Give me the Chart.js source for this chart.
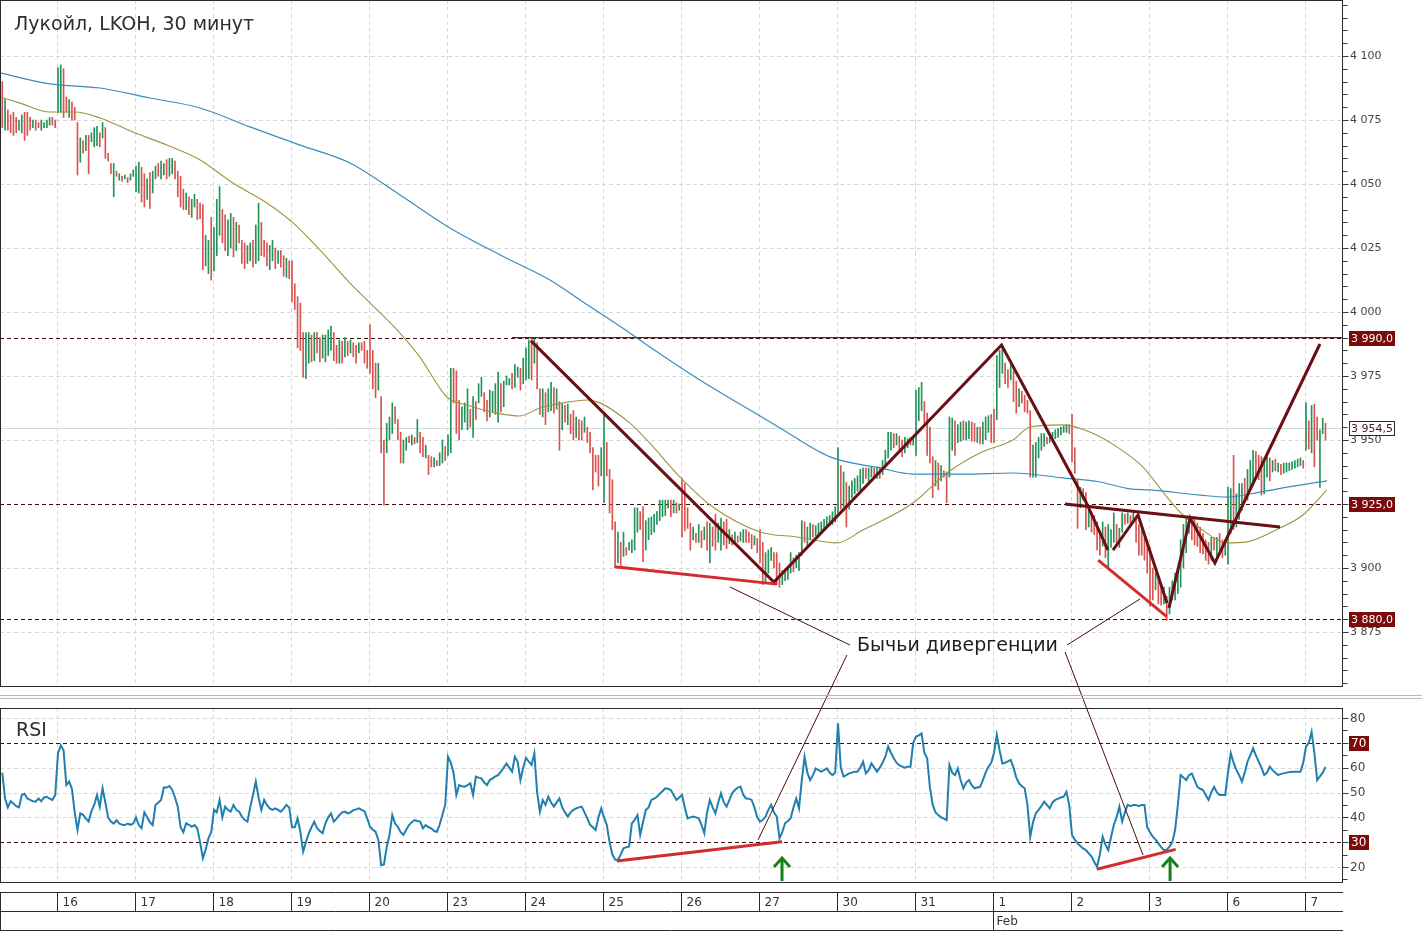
<!DOCTYPE html>
<html>
<head>
<meta charset="utf-8">
<title>Лукойл, LKOH, 30 минут</title>
<script src="https://cdn.jsdelivr.net/npm/chart.js@4.4.1/dist/chart.umd.min.js"></script>
<style>
  html, body { margin: 0; padding: 0; background: #fff; }
  #chart { display: block; }
</style>
</head>
<body>
<canvas id="chart" width="1422" height="933"></canvas>
<script>
// ---- data ----
const title = 'Лукойл, LKOH, 30 минут';
const dayLabels = ['16', '17', '18', '19', '20', '23', '24', '25', '26', '27', '30', '31', '1', '2', '3', '6', '7'];
const monthLabels = [{ day: 12, text: 'Feb' }];
const barsPerDay = 28;
const firstBar = -20; // tail of the previous session before "16"

const highs = [
  4090, 4083, 4079, 4077, 4078, 4076, 4075, 4077, 4078, 4078, 4076, 4075, 4075, 4074, 4075, 4074, 4075, 4076, 4076, 4075,
  // 16
  4095.5, 4096.5, 4095, 4084, 4083, 4082, 4080, 4074, 4068, 4067, 4069, 4069, 4070, 4072, 4072.5, 4070, 4074, 4072, 4062, 4058, 4058, 4055, 4054, 4053, 4053.5, 4052.5, 4054, 4055.5,
  // 17
  4057, 4058.5, 4056.5, 4054, 4052, 4054.5, 4055, 4057, 4058, 4059, 4058, 4059.5, 4060, 4060, 4059, 4055, 4053, 4048, 4046.5, 4045, 4044, 4046, 4044, 4042.5, 4042, 4030, 4028, 4037,
  // 18
  4033, 4044, 4049, 4040, 4038, 4036, 4038.5, 4037, 4035, 4034, 4028, 4027, 4026, 4027, 4028, 4034, 4042.5, 4035, 4028, 4027, 4026, 4028, 4025, 4024, 4024, 4022, 4021, 4020,
  // 19
  4020, 4011, 4006, 4003.5, 3992, 3992, 3992, 3991, 3992, 3992, 3990, 3991, 3991, 3993, 3994.5, 3992, 3987, 3989, 3988.5, 3990, 3988.5, 3989, 3988, 3987, 3988, 3988, 3988.5, 3985,
  // 20
  3995, 3985, 3980, 3980, 3967, 3950, 3956.5, 3959, 3964.5, 3963, 3958, 3953, 3950, 3951, 3951.5, 3952, 3951, 3958, 3953, 3951, 3948, 3944, 3943.5, 3943, 3942, 3945, 3950, 3947.5,
  // 23
  3952, 3978, 3978, 3977, 3965.5, 3963, 3964.5, 3970, 3962, 3967, 3965, 3972, 3974.5, 3968.5, 3965.5, 3969.5, 3969, 3972, 3976.5, 3972, 3973, 3975, 3974, 3976, 3979.5, 3978.5, 3978, 3982,
  // 24
  3986, 3989, 3990, 3989.5, 3988, 3970, 3970, 3968.5, 3970, 3972.5, 3970.5, 3970, 3965, 3964, 3963.5, 3964, 3960, 3961.5, 3959, 3958, 3957.5, 3959, 3955, 3953, 3947, 3944, 3944, 3947,
  // 25
  3960, 3949, 3938.5, 3934.5, 3918, 3914, 3910, 3914, 3908, 3910, 3911, 3923.5, 3923.5, 3922, 3924, 3918.5, 3919.5, 3920, 3921, 3922, 3926.5, 3926.5, 3926.5, 3926.5, 3926.5, 3926.5, 3925.5, 3925,
  // 26
  3935, 3933, 3923.5, 3917.5, 3916, 3913.5, 3917, 3914.5, 3916, 3918, 3917.5, 3916, 3921, 3917.5, 3919.5, 3918, 3919, 3915, 3913, 3914, 3912.5, 3914, 3915, 3915, 3914, 3913, 3912.5, 3911.5,
  // 27
  3915, 3910, 3906, 3907, 3908, 3906, 3906, 3902, 3899, 3899.5, 3900.5, 3906, 3904, 3905, 3906, 3918.5, 3918, 3916, 3917.5, 3917, 3916.5, 3917.5, 3918, 3919, 3920, 3920.5, 3922, 3924,
  // 30
  3947, 3940, 3937.5, 3933.5, 3932, 3934, 3935, 3936, 3938.5, 3939, 3939, 3939, 3939.5, 3939, 3939.5, 3939.5, 3942, 3946, 3953, 3953, 3952.5, 3952.5, 3951.5, 3950, 3951, 3950.5, 3951, 3951,
  // 31
  3969.5, 3970.5, 3972.5, 3965, 3960.5, 3955, 3943.5, 3942, 3941, 3940, 3938, 3937.5, 3959, 3958.5, 3957.5, 3956, 3957, 3957.5, 3957, 3957.5, 3957, 3956.5, 3955, 3955, 3957, 3959, 3959.5, 3960,
  // 1 Feb
  3962, 3983, 3985, 3987, 3980, 3977.5, 3979.5, 3977, 3973, 3970, 3969, 3967.5, 3965.5, 3961.5, 3948, 3949, 3951, 3952.5, 3952.5, 3951, 3951, 3953, 3954, 3954.5, 3955, 3955.5, 3956, 3956,
  // 2
  3960, 3947, 3934.5, 3931.5, 3931, 3929.5, 3922.5, 3921, 3920.5, 3918, 3914, 3918, 3916, 3917, 3915, 3921.5, 3917, 3915.5, 3921.5, 3921, 3921.5, 3920.5, 3922, 3920, 3917, 3915, 3912, 3910,
  // 3
  3908, 3900, 3898, 3895.5, 3893, 3892.5, 3889, 3892.5, 3895, 3898, 3900, 3911, 3917, 3919.5, 3920, 3920, 3919, 3917.5, 3916, 3913.5, 3911, 3910, 3912, 3912, 3912, 3913.5, 3911, 3911,
  // 6
  3931.5, 3931, 3944, 3929, 3933, 3933, 3935, 3938.5, 3942, 3946, 3945.5, 3944, 3943.5, 3943, 3943.5, 3943, 3942, 3942.5, 3941, 3940.5, 3941, 3941, 3941, 3941.5, 3942, 3942.5, 3943, 3942,
  // 7
  3964.5, 3957.5, 3963.5, 3964, 3959, 3954, 3958.5, 3956.5
];

const lows = [
  4072, 4071, 4071, 4070, 4069, 4070, 4071, 4070, 4067, 4069, 4071, 4072, 4071, 4072, 4071, 4072, 4072, 4073, 4073, 4072,
  // 16
  4078, 4078, 4076, 4078, 4076, 4075, 4075, 4053.5, 4058.5, 4062, 4063, 4054, 4066.5, 4064.5, 4065, 4064.5, 4068, 4060, 4059, 4054, 4045, 4053, 4051.5, 4051, 4052, 4050.5, 4051.5, 4053,
  // 17
  4047, 4046.5, 4043, 4041, 4044, 4040.5, 4046.5, 4052, 4053, 4052, 4053.5, 4052, 4053, 4054, 4052, 4045, 4041, 4040, 4040, 4038, 4037, 4041, 4036, 4036.5, 4016.5, 4018, 4015, 4012.5,
  // 18
  4016, 4022, 4030, 4027, 4024, 4022, 4025, 4021.5, 4024, 4027, 4019, 4017, 4019, 4020, 4017.5, 4019, 4020, 4022, 4021.5, 4018, 4016.5, 4020, 4017, 4019, 4017.5, 4014, 4013.5, 4013,
  // 19
  4004, 4001, 3986, 3985, 3974.5, 3974, 3980, 3980.5, 3981, 3984, 3980.5, 3982, 3980.5, 3983, 3985, 3981, 3980, 3980, 3980, 3982.5, 3983, 3984, 3982.5, 3980, 3984, 3985, 3980, 3978,
  // 20
  3976, 3970, 3966.5, 3969.5, 3945, 3924.5, 3945, 3950, 3952.5, 3956.5, 3950, 3941, 3941, 3946, 3949, 3948, 3948.5, 3949, 3945, 3943.5, 3943, 3936.5, 3939.5, 3939.5, 3940, 3940, 3941, 3942,
  // 23
  3944, 3945, 3964.5, 3952.5, 3950, 3954, 3957, 3954, 3955, 3951, 3958, 3964.5, 3967, 3961, 3957.5, 3959, 3961, 3960, 3957, 3961, 3963, 3971.5, 3971.5, 3970, 3970.5, 3974.5, 3969.5, 3972,
  // 24
  3973.5, 3974, 3973.5, 3980, 3970, 3960, 3959, 3956, 3961, 3961.5, 3960.5, 3962, 3946, 3954, 3957, 3956, 3952.5, 3950, 3951, 3950, 3950, 3953, 3949, 3945, 3930.5, 3937.5, 3932, 3936,
  // 25
  3925.5, 3936, 3921.5, 3915, 3901, 3902, 3901, 3904.5, 3905, 3907, 3906, 3907, 3914, 3915, 3902.5, 3907, 3911, 3913, 3914, 3917, 3918.5, 3920, 3920.5, 3923.5, 3920, 3921.5, 3921.5, 3922.5,
  // 26
  3912, 3914.5, 3915.5, 3907, 3911, 3910, 3910, 3908, 3911, 3907, 3902, 3908.5, 3907, 3910, 3907, 3909, 3907.5, 3909.5, 3909, 3910, 3910, 3910.5, 3910, 3910, 3910, 3907.5, 3909, 3906,
  // 27
  3902, 3893.5, 3894, 3898, 3903, 3900, 3893.5, 3892.5, 3893.5, 3895, 3895.5, 3898, 3898.5, 3900, 3899, 3905, 3910, 3908.5, 3911, 3912, 3912.5, 3913, 3914, 3915, 3916, 3916.5, 3917, 3918,
  // 30
  3921.5, 3923, 3924, 3916, 3923, 3927.5, 3929, 3930, 3930.5, 3933, 3935, 3934, 3935.5, 3935.5, 3935, 3935, 3936.5, 3939.5, 3943, 3946, 3947, 3948, 3945, 3943.5, 3945, 3947, 3948, 3948,
  // 31
  3944, 3957.5, 3961.5, 3956.5, 3944, 3941, 3927.5, 3932, 3930.5, 3934, 3935.5, 3925.5, 3935.5, 3946, 3944, 3949, 3949.5, 3950, 3950, 3950.5, 3949.5, 3949.5, 3949, 3948.5, 3948.5, 3950, 3953, 3949,
  // 1 Feb
  3949, 3958, 3970.5, 3976, 3972, 3970.5, 3973.5, 3965, 3960.5, 3963, 3964.5, 3961, 3960.5, 3935.5, 3935.5, 3935.5, 3943, 3946, 3947.5, 3948.5, 3949, 3950, 3950.5, 3951, 3952, 3953, 3953, 3952.5,
  // 2
  3941.5, 3937, 3915.5, 3923.5, 3926.5, 3915, 3916, 3914, 3913, 3907, 3905, 3908.5, 3904, 3900.5, 3908, 3910, 3910, 3908, 3914, 3917, 3917.5, 3916.5, 3918, 3910, 3905, 3905, 3903, 3898,
  // 3
  3885, 3887.5, 3891.5, 3886, 3885.5, 3886, 3879.5, 3882, 3887.5, 3887.5, 3890, 3892.5, 3900, 3906, 3913.5, 3911, 3909, 3908.5, 3906, 3905.5, 3903, 3901.5, 3903, 3907, 3904.5, 3907, 3904, 3905,
  // 6
  3901.5, 3913.5, 3915, 3916, 3919, 3922.5, 3926.5, 3926.5, 3931.5, 3933, 3936.5, 3934.5, 3928.5, 3929, 3935.5, 3934, 3937.5, 3938, 3937.5, 3936.5, 3937, 3937.5, 3938, 3938.5, 3939, 3939.5, 3940, 3939,
  // 7
  3946, 3946.5, 3945, 3939.5, 3950, 3931.5, 3952.5, 3950
];

// u = bar closed up (green), d = closed down (red)
const barDirs = [
  'dudd dduu dddu dduu uudd',
  'uudd uddd udud uuud uddd udud uduu',
  'uudd uduu duud uudd ddud uudd duud',
  'uuud duud uddd uudu uddd uudu ddud',
  'dddd duud uddu uuud dudu dudd uddd',
  'dddu dduu uddd uudu dudd uddu duud',
  'uudd duuu dudu uddu uuud uuud uudu',
  'uudu ddud uudu dudu ddud dudd dddu',
  'uddd dudu duuu uddu uuuu uuuu dudu',
  'dddd udud udud duud dudu duud ddud',
  'dduu uddd uuuu duuu duud uuuu uuuu',
  'udud uuuu uudu udud uuuu dudd uudu',
  'uuud dddu dudd uudu uduu ddud uuud',
  'duuu ddud dudd dduu uuud uuuu uuud',
  'dddu ddud dddu duuu duud udud dddd',
  'ddud dudu uuuu uuud dddd ddud uddu',
  'uudu uudu uudd duud udud uuuu uuud',
  'udud duud'
].join('').replace(/ /g, '');

const rsiValues = [
  58, 47.6, 44, 46.5, 45.6, 44.5, 44, 49, 49.5, 47.6, 47, 46.5, 46.3, 47.6, 46.5, 48, 48.3, 47.5, 47, 49,
  65.8, 69, 67, 53, 54.4, 51.5, 42, 35, 41.6, 41, 39.5, 38.3, 42.5, 45, 49, 44.3, 51.7, 46, 40, 38.3, 37.5, 38.9, 37.5, 37, 36.9, 37.5, 37, 37.5,
  40, 36.9, 35.6, 42, 40, 38, 36.9, 45, 46, 47, 52, 52, 52.6, 51, 48, 44.3, 36, 34, 37.6, 37, 36.2, 36.9, 35.6, 30, 23.5, 27, 31.5, 34,
  43, 42, 47, 40, 44.3, 43, 42.3, 45, 43, 42.3, 40.3, 39, 38.3, 44, 49, 54.4, 48, 43, 47, 45, 43.6, 43, 43.6, 43, 42.3, 43.5, 45, 44,
  36, 36, 39.6, 34.2, 26.2, 30, 33.5, 36, 38.3, 35.6, 34.5, 33.6, 37.6, 40, 41.6, 38.3, 39.5, 40.9, 42, 42.3, 41.6, 42, 42.9, 43.2, 43.6, 43, 42.5, 39.6,
  36.2, 35, 34.2, 30.9, 20.8, 21, 28, 33, 40.9, 37.5, 36.2, 34, 32.9, 35, 36.9, 38, 38.9, 38.5, 38.3, 35.6, 36.9, 36, 35.6, 34.5, 34.2, 37, 41, 45,
  64.4, 62, 58, 49, 53, 52.5, 52.3, 53, 53.7, 49, 56.4, 56, 55.7, 54, 53, 55, 55.7, 56.5, 57, 58.4, 60, 61.7, 60, 58.4, 64.4, 62.4, 55, 60,
  64, 62.4, 61.1, 65.8, 50, 42.3, 47, 45, 48.3, 46, 44.3, 46, 47.6, 44, 42, 40.3, 42, 43, 43.6, 44, 44.3, 42, 39.6, 37, 36, 34.9, 40, 43.6,
  40, 36.9, 30, 25, 23, 22.8, 25, 27.5, 28, 28.2, 37.6, 39, 40.9, 32.9, 38, 42.9, 44, 47, 47.5, 48.3, 49.5, 50.5, 51.7, 51.5, 51, 49, 47, 48,
  49, 44, 39.6, 40, 40.3, 40, 39.6, 37, 33.6, 42, 47, 44, 41.6, 46, 49.7, 46, 44.3, 47, 49.7, 51, 52, 52.3, 49, 47.6, 47.5, 47, 44, 40,
  38.3, 39, 40.3, 43, 45, 42, 40.3, 31.5, 34, 37.6, 38.5, 39.6, 44, 47.6, 43.6, 55, 64.4, 58, 55, 57, 59.7, 59, 58.4, 59, 59.7, 58, 57, 58,
  77.9, 60, 56.4, 57, 57.7, 58, 58.4, 58.4, 60, 62.4, 57.7, 59, 61.7, 60, 58.4, 60, 62, 64.4, 68.5, 66, 63.8, 62, 61, 60.4, 60, 60.4, 60.4, 70,
  72.5, 73, 73.8, 66, 63.8, 52, 45, 42, 40.9, 40, 39.5, 38.9, 61.1, 58, 57, 59.7, 55, 51.7, 54, 55, 53, 51.7, 52, 52.3, 55, 58, 60.4, 62,
  66, 73.2, 67, 61.7, 62, 62.5, 63.1, 60, 56, 53.7, 52.5, 51.7, 45, 32.2, 38, 41.6, 43, 44.5, 46.3, 45, 43.6, 46, 47, 47.5, 48, 48.3, 50.3, 45,
  32.9, 31, 29.5, 28.5, 27.5, 26.8, 25.5, 24.2, 22, 20.1, 25, 32.2, 29, 26.8, 32, 36.9, 40, 44.3, 38.3, 42, 45, 44.5, 45, 45, 44.5, 45, 45, 36,
  34, 32.2, 31, 29.5, 28, 26.8, 27, 28.2, 30, 34.9, 45, 57, 56, 55, 57, 57.7, 55, 52.3, 51.5, 51, 49, 47, 50, 52.3, 50, 49, 49, 49,
  58, 65.8, 62, 59.1, 57, 54.4, 58, 62.4, 65, 67.8, 65, 62.4, 60, 57, 58, 60.4, 59, 58, 57, 57.5, 57.7, 58, 58.2, 58.4, 58.4, 58.4, 58.4, 62,
  68.5, 70, 74.4, 66, 55, 56.5, 58, 60.3
];

// moving averages, [bar, price]
const maFast = [
  [-20.8, 4084], [-13.6, 4081.6], [-2.9, 4078.1], [6.1, 4078.1], [15.1, 4075.8], [26.9, 4070.3], [39.1, 4065.2],
  [51, 4059.4], [62.8, 4050.4], [75, 4042.6], [84.4, 4034.8], [93, 4025.4], [104.8, 4011.3], [110.9, 4004.7],
  [121.7, 3993], [129.9, 3982.4], [139.6, 3966.8], [146.8, 3963.7], [157.6, 3960.5], [165.8, 3959.4], [173, 3962.5],
  [181.3, 3964.5], [189.9, 3965.6], [194.5, 3964.5], [205.3, 3956.6], [211.4, 3950], [223.3, 3935.5], [235.1, 3923.8],
  [252, 3914.1], [265.3, 3912.1], [279.6, 3909.8], [288.9, 3914.8], [306.9, 3925.4], [319.1, 3937.1], [330.9, 3944.9],
  [342.8, 3950], [348.9, 3955.1], [360.7, 3955.9], [370.4, 3953.1], [380.1, 3947.3], [389.4, 3939.5], [398.1, 3927.7],
  [403.8, 3920.7], [409.9, 3915.6], [419.6, 3909.8], [426.8, 3910.2], [438.6, 3915.6], [446.9, 3920.7], [455.5, 3930.5]
];
const maSlow = [
  [-20.8, 4093.4], [-2.9, 4089.1], [15.1, 4087.5], [33, 4083.6], [51, 4079.7], [68.9, 4072.3], [86.9, 4065.2],
  [104.8, 4058.2], [122.8, 4045.7], [140.7, 4032.8], [158.7, 4022.3], [176.6, 4012.5], [187.4, 4004.7], [205.3, 3991.8],
  [212.5, 3986.3], [230.4, 3973.4], [248.4, 3961.7], [259.2, 3954.7], [277.1, 3943.4], [295.1, 3939.1], [306.9, 3936.7],
  [324.9, 3936.7], [342.8, 3937.1], [360.7, 3935.2], [374, 3933.6], [384.8, 3930.9], [392, 3930.5], [409.9, 3928.5],
  [419.6, 3927.7], [427.9, 3928.9], [439.7, 3931.3], [455.5, 3934]
];

const priceTicks = [3875, 3900, 3925, 3950, 3975, 4000, 4025, 4050, 4075, 4100];
const rsiTicks = [20, 40, 50, 60, 80];
const levels = [3990, 3925, 3880];
const rsiLevels = [70, 30];
const lastPrice = 3954.5;
const resistance = { fromBar: 163, price: 3990 };

// hand-drawn pattern lines, [bar, price]
const patternLines = [
  [[169.8, 3988.7], [257.0, 3894.5], [338.7, 3987.1], [369.0, 3925.8], [376.9, 3907.0]],
  [[378.7, 3907.0], [387.7, 3920.7], [398.1, 3886.3]],
  [[398.8, 3884.4], [406.4, 3919.5], [415.3, 3902.0], [453.0, 3987.5]],
  [[361.5, 3925.0], [438.7, 3916.0]]
];
const divergencePrice = [
  [[199.7, 3900.5], [258.0, 3893.7]],
  [[373.4, 3903.1], [398.0, 3881.0]]
];
const divergenceRsi = [
  [[200.6, 22.4], [259.9, 30.2]],
  [[372.9, 19.1], [401.2, 27.1]]
];
const calloutText = 'Бычьи дивергенции';
const callout = { bar: 286.8, price: 3869.5 };
const calloutPriceLinks = [
  [[241.2, 3892.6], [284.3, 3869.9]],
  [[362.2, 3869.9], [388.4, 3887.9]]
];
const calloutRsiLinks = [
  { from: [283.2, 3866.0], to: [251.3, 30.9] },
  { from: [361.5, 3867.2], to: [389.5, 24.8] }
];
const arrowBars = [259.9, 399.2];
const arrowTipRsi = 24.0;

// ---- view: both panels share one chart area ----
const view = {
  xMin: -20.82, xMax: 460.92,
  priceMin: 3777.34, priceMax: 4121.875, pricePanelLow: 3853.9,
  rsiMin: 13.96, rsiMax: 369.13, rsiPanelHigh: 84.03
};

const font = 'DejaVu Sans';
Chart.defaults.font.family = font;

const spaced = (s) => s.replace(/^(-?\d)(\d{3})/, '$1 $2');
const priceText = (v, digits) => spaced(v.toFixed(digits).replace('.', ','));
const crisp = (scale, v) => Math.round(scale.getPixelForValue(v)) + 0.5;
const seg = (ctx, x1, y1, x2, y2) => {
  ctx.beginPath();
  ctx.moveTo(x1, y1);
  ctx.lineTo(x2, y2);
  ctx.stroke();
};
const tag = (ctx, text, x, cy, bg, fg, border) => {
  const w = Math.ceil(ctx.measureText(text).width) + 4;
  ctx.fillStyle = bg;
  ctx.fillRect(x, Math.round(cy) - 7, w, 15);
  if (border) {
    ctx.strokeStyle = border;
    ctx.strokeRect(x + 0.5, Math.round(cy) - 6.5, w - 1, 14);
  }
  ctx.fillStyle = fg;
  ctx.fillText(text, x + 2, Math.round(cy) + 1);
};

const decor = {
  id: 'decor',
  beforeDatasetsDraw(chart) {
    const { ctx, chartArea: a, scales: { x, y, rsi } } = chart;
    const mainBot = y.getPixelForValue(view.pricePanelLow);
    const rTop = rsi.getPixelForValue(view.rsiPanelHigh);
    ctx.save();
    ctx.lineWidth = 1;
    ctx.strokeStyle = '#d8d8d8';
    ctx.setLineDash([4, 3]);
    dayLabels.forEach((_, k) => {
      const gx = crisp(x, k * barsPerDay - 0.5);
      seg(ctx, gx, a.top, gx, mainBot);
      seg(ctx, gx, rTop, gx, a.bottom);
    });
    priceTicks.forEach(v => { const gy = crisp(y, v); seg(ctx, a.left, gy, a.right, gy); });
    rsiTicks.forEach(v => { const gy = crisp(rsi, v); seg(ctx, a.left, gy, a.right, gy); });
    ctx.setLineDash([]);
    ctx.strokeStyle = '#cfdcdc';
    const ly = crisp(y, lastPrice);
    seg(ctx, a.left, ly, a.right, ly);
    ctx.strokeStyle = '#3a0c0c';
    ctx.setLineDash([4, 3]);
    levels.forEach(v => { const gy = crisp(y, v); seg(ctx, a.left, gy, a.right + 7, gy); });
    rsiLevels.forEach(v => { const gy = crisp(rsi, v); seg(ctx, a.left, gy, a.right + 7, gy); });
    ctx.restore();
  },
  afterDatasetsDraw(chart) {
    const { ctx, chartArea: a, scales: { x, y, rsi } } = chart;
    const mainBot = crisp(y, view.pricePanelLow);
    const rTop = crisp(rsi, view.rsiPanelHigh);
    const rBot = a.bottom + 0.5;
    ctx.save();

    // callout and its links
    ctx.strokeStyle = '#4a0b0b';
    ctx.lineWidth = 1;
    calloutPriceLinks.forEach(([p, q]) => seg(ctx,
      x.getPixelForValue(p[0]), y.getPixelForValue(p[1]), x.getPixelForValue(q[0]), y.getPixelForValue(q[1])));
    calloutRsiLinks.forEach(l => seg(ctx,
      x.getPixelForValue(l.from[0]), y.getPixelForValue(l.from[1]), x.getPixelForValue(l.to[0]), rsi.getPixelForValue(l.to[1])));
    ctx.fillStyle = '#1e1e1e';
    ctx.font = '19px "' + font + '"';
    ctx.textBaseline = 'middle';
    ctx.fillText(calloutText, x.getPixelForValue(callout.bar), y.getPixelForValue(callout.price));

    // green arrows under the rsi divergences
    ctx.strokeStyle = '#17801c';
    ctx.lineWidth = 3;
    arrowBars.forEach(b => {
      const ax = x.getPixelForValue(b), tip = rsi.getPixelForValue(arrowTipRsi);
      seg(ctx, ax, a.bottom - 1, ax, tip + 2);
      ctx.beginPath();
      ctx.moveTo(ax - 8, tip + 10);
      ctx.lineTo(ax, tip + 1);
      ctx.lineTo(ax + 8, tip + 10);
      ctx.stroke();
    });

    // panel frames and separator
    ctx.lineWidth = 1;
    ctx.strokeStyle = '#2a2a2a';
    ctx.strokeRect(0.5, 0.5, a.right, mainBot - 0.5);
    ctx.strokeRect(0.5, rTop, a.right, rBot - rTop);
    ctx.strokeStyle = '#b9b9b9';
    seg(ctx, 0, mainBot + 9, chart.width, mainBot + 9);
    seg(ctx, 0, mainBot + 12, chart.width, mainBot + 12);

    // axis tick marks
    ctx.strokeStyle = '#3a3a3a';
    const ax0 = a.right + 0.5;
    for (let v = 3855; v <= 4120; v += 5) {
      const ty = crisp(y, v);
      seg(ctx, ax0, ty, ax0 + (v % 25 === 0 ? 6 : 5), ty);
    }
    for (let v = 15; v <= 80; v += 5) {
      const ty = crisp(rsi, v);
      seg(ctx, ax0, ty, ax0 + (v % 10 === 0 ? 6 : 5), ty);
    }

    // rsi scale labels
    ctx.font = '12px "' + font + '"';
    ctx.textBaseline = 'middle';
    ctx.fillStyle = '#444';
    rsiTicks.forEach(v => ctx.fillText(String(v), a.right + 8, rsi.getPixelForValue(v) + 0.5));

    // level tags
    ctx.font = '11px "' + font + '"';
    levels.forEach(v => tag(ctx, priceText(v, 1), a.right + 7, y.getPixelForValue(v), '#7b0a0a', '#ffffff'));
    ctx.font = '12px "' + font + '"';
    rsiLevels.forEach(v => tag(ctx, String(v), a.right + 7, rsi.getPixelForValue(v), '#7b0a0a', '#ffffff'));
    ctx.font = '11px "' + font + '"';
    tag(ctx, priceText(lastPrice, 1), a.right + 7, y.getPixelForValue(lastPrice), '#ffffff', '#4a1a1a', '#2a2a2a');

    // titles
    ctx.fillStyle = '#2e2e2e';
    ctx.font = '19px "' + font + '"';
    ctx.textBaseline = 'alphabetic';
    ctx.fillText(title, 14, 30);
    ctx.fillText('RSI', 16, rTop + 27.5);
    ctx.restore();
  },
  afterDraw(chart) {
    const { ctx, chartArea: a, scales: { x } } = chart;
    const r0 = a.bottom + 10.5, r1 = r0 + 19, r2 = r1 + 19;
    ctx.save();
    ctx.strokeStyle = '#2a2a2a';
    ctx.lineWidth = 1;
    [r0, r1, r2].forEach(ry => seg(ctx, 0, ry, a.right + 1, ry));
    seg(ctx, 0.5, r0, 0.5, r2);
    ctx.fillStyle = '#333';
    ctx.font = '12px "' + font + '"';
    ctx.textBaseline = 'middle';
    dayLabels.forEach((d, k) => {
      const gx = crisp(x, k * barsPerDay - 0.5);
      seg(ctx, gx, r0, gx, r1);
      ctx.fillText(d, gx + 5, (r0 + r1) / 2 + 1);
    });
    monthLabels.forEach(m => {
      const gx = crisp(x, m.day * barsPerDay - 0.5);
      seg(ctx, gx, r1, gx, r2);
      ctx.fillText(m.text, gx + 3, (r1 + r2) / 2 + 1);
    });
    ctx.restore();
  }
};

const pts = (arr) => arr.map(([b, v]) => ({ x: b, y: v }));
const lineSet = (data, axis, color, width, order, extra) => Object.assign({
  type: 'line', yAxisID: axis, data: data, borderColor: color, borderWidth: width,
  pointRadius: 0, tension: 0, order: order
}, extra || {});

const datasets = [
  {
    type: 'bar', yAxisID: 'y', order: 10,
    data: highs.map((h, i) => ({ x: firstBar + i, y: [lows[i], h] })),
    backgroundColor: highs.map((h, i) => barDirs[i] === 'd' ? '#d9534f' : '#23935a'),
    barThickness: 1, borderWidth: 0
  },
  lineSet(pts(maSlow), 'y', '#3a8cbd', 1.2, 8, { cubicInterpolationMode: 'monotone' }),
  lineSet(pts(maFast), 'y', '#9d9540', 1.1, 8, { cubicInterpolationMode: 'monotone' }),
  lineSet(rsiValues.map((v, i) => ({ x: firstBar + i, y: v })), 'rsi', '#1f7fae', 2, 6),
  lineSet([{ x: resistance.fromBar, y: resistance.price }, { x: view.xMax, y: resistance.price }], 'y', '#7a1515', 1.3, 4)
];
patternLines.forEach(l => datasets.push(lineSet(pts(l), 'y', '#6a0f13', 3, 2)));
divergencePrice.forEach(l => datasets.push(lineSet(pts(l), 'y', '#d42b2b', 3, 1)));
divergenceRsi.forEach(l => datasets.push(lineSet(pts(l), 'rsi', '#d42b2b', 3, 1)));

new Chart(document.getElementById('chart').getContext('2d'), {
  type: 'bar',
  data: { datasets: datasets },
  options: {
    responsive: false,
    animation: false,
    devicePixelRatio: 1,
    events: [],
    layout: { padding: { left: 0, right: 0, top: 0, bottom: 51 } },
    plugins: { legend: { display: false }, tooltip: { enabled: false } },
    scales: {
      x: { type: 'linear', min: view.xMin, max: view.xMax, offset: false, display: false },
      y: {
        type: 'linear', position: 'right', bounds: 'data',
        min: view.priceMin, max: view.priceMax,
        afterBuildTicks: (axis) => { axis.ticks = priceTicks.map(v => ({ value: v })); },
        afterFit: (axis) => { axis.width = 80; axis.paddingTop = 0; axis.paddingBottom = 0; },
        grid: { display: false, drawTicks: true, tickLength: 6 },
        border: { display: false },
        ticks: { autoSkip: false, padding: 2, color: '#444', font: { size: 11 }, callback: (v) => spaced(String(v)) }
      },
      rsi: {
        type: 'linear', axis: 'y', position: 'right', display: false, bounds: 'data',
        min: view.rsiMin, max: view.rsiMax
      }
    }
  },
  plugins: [decor]
});
</script>
</body>
</html>
